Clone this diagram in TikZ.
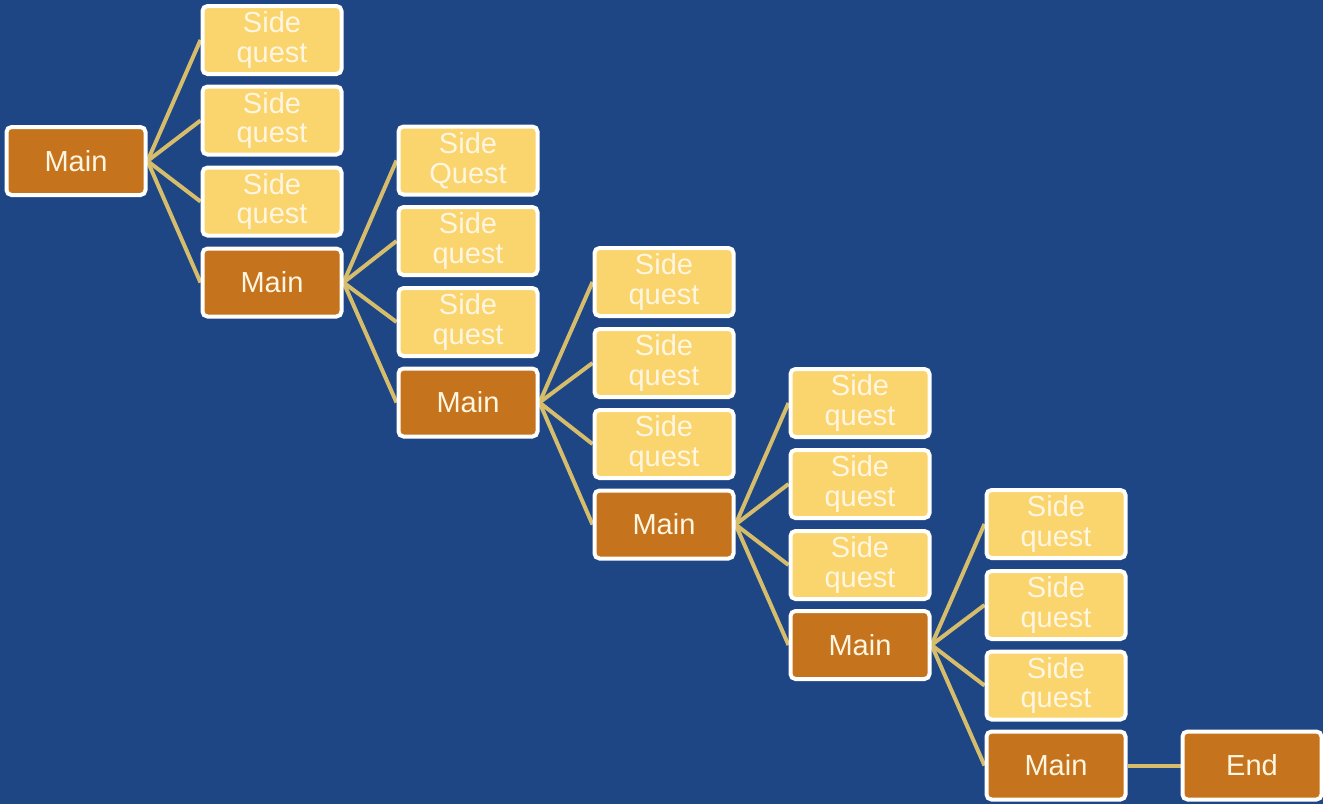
\documentclass[tikz,border=0pt]{standalone}
\usepackage{fontspec}
\setmainfont{Liberation Sans}
\usetikzlibrary{backgrounds}
\definecolor{bgblue}{HTML}{1E4584}
\definecolor{sidefill}{HTML}{FAD46C}
\definecolor{mainfill}{HTML}{C5731C}
\definecolor{linkcol}{HTML}{D6BD6C}
\definecolor{txtcol}{HTML}{FFF6E2}
\tikzset{
  box/.style={draw=white, line width=2pt, rounded corners=2.5pt,
    minimum width=69.5pt, minimum height=34pt, inner sep=0pt,
    align=center, text=txtcol,
    font=\fontsize{14.5pt}{14.8pt}\selectfont},
  side/.style={box, fill=sidefill},
  mainq/.style={box, fill=mainfill},
  link/.style={draw=linkcol, line width=2pt}
}
\begin{document}
\begin{tikzpicture}[x=0.5pt, y=-0.5pt]
\useasboundingbox (0,0) rectangle (1323,804);
% column 0
\node[mainq] (m0) at (76,161) {Main};
% column 1
\node[side] (s11) at (272,40) {Side\\quest};
\node[side] (s12) at (272,120.5) {Side\\quest};
\node[side] (s13) at (272,201.5) {Side\\quest};
\node[mainq] (m1) at (272,282.5) {Main};
% column 2
\node[side] (s21) at (468,160.5) {Side\\Quest};
\node[side] (s22) at (468,241) {Side\\quest};
\node[side] (s23) at (468,322) {Side\\quest};
\node[mainq] (m2) at (468,402.5) {Main};
% column 3
\node[side] (s31) at (664,282) {Side\\quest};
\node[side] (s32) at (664,363) {Side\\quest};
\node[side] (s33) at (664,444) {Side\\quest};
\node[mainq] (m3) at (664,524.5) {Main};
% column 4
\node[side] (s41) at (860,403) {Side\\quest};
\node[side] (s42) at (860,484) {Side\\quest};
\node[side] (s43) at (860,565) {Side\\quest};
\node[mainq] (m4) at (860,645) {Main};
% column 5
\node[side] (s51) at (1056,524) {Side\\quest};
\node[side] (s52) at (1056,605) {Side\\quest};
\node[side] (s53) at (1056,685.5) {Side\\quest};
\node[mainq] (m5) at (1056,765.5) {Main};
% final step
\node[mainq] (end) at (1252,765.5) {End};
\begin{scope}[on background layer]
  \fill[bgblue] (0,0) rectangle (1323,804);
  \draw[link] (m0.east) -- (s11.west);
  \draw[link] (m0.east) -- (s12.west);
  \draw[link] (m0.east) -- (s13.west);
  \draw[link] (m0.east) -- (m1.west);
  \draw[link] (m1.east) -- (s21.west);
  \draw[link] (m1.east) -- (s22.west);
  \draw[link] (m1.east) -- (s23.west);
  \draw[link] (m1.east) -- (m2.west);
  \draw[link] (m2.east) -- (s31.west);
  \draw[link] (m2.east) -- (s32.west);
  \draw[link] (m2.east) -- (s33.west);
  \draw[link] (m2.east) -- (m3.west);
  \draw[link] (m3.east) -- (s41.west);
  \draw[link] (m3.east) -- (s42.west);
  \draw[link] (m3.east) -- (s43.west);
  \draw[link] (m3.east) -- (m4.west);
  \draw[link] (m4.east) -- (s51.west);
  \draw[link] (m4.east) -- (s52.west);
  \draw[link] (m4.east) -- (s53.west);
  \draw[link] (m4.east) -- (m5.west);
  \draw[link] (m5.east) -- (end.west);
\end{scope}
\end{tikzpicture}
\end{document}
